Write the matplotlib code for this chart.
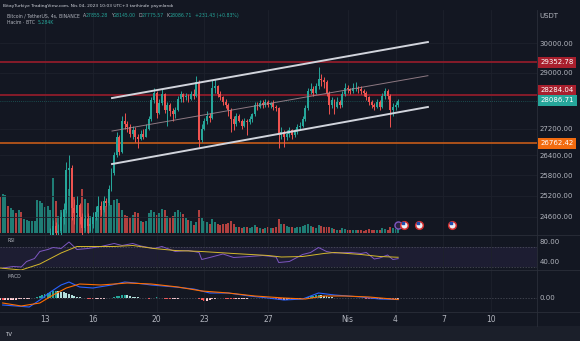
import matplotlib.pyplot as plt
import matplotlib.transforms as mtransforms
from matplotlib.patches import Rectangle
from matplotlib.lines import Line2D
from matplotlib.ticker import FixedLocator, NullLocator, FuncFormatter
import numpy as np

# BTC/USDT 4h candles (Binance), Mar 10 07:00 .. Apr 4 07:00 (UTC+3)
first_open = 20150
closes = [
    19950, 20150, 20200, 20050, 20250,                  # Mar 10
    20550, 20350, 20600, 20450, 20500, 20600,           # Mar 11
    20700, 20900, 21200, 21450, 22100, 22300,           # Mar 12
    22400, 22700, 24100, 24350, 24150, 24200,           # Mar 13
    24600, 24800, 25950, 26000, 24850, 24700,           # Mar 14
    24950, 24600, 24300, 24550, 24350, 24400,           # Mar 15
    24600, 24750, 24900, 24800, 25050, 25000,           # Mar 16
    25400, 25850, 26400, 26950, 26500, 27450,           # Mar 17
    27350, 27250, 27050, 27150, 26950, 26900,           # Mar 18
    27050, 26950, 27200, 27500, 28100, 28350,           # Mar 19
    27700, 28000, 28300, 27800, 27950, 27750,           # Mar 20
    27650, 27800, 28150, 28300, 28200, 28250,           # Mar 21
    28150, 28300, 28250, 28700, 26850, 27200,           # Mar 22
    27450, 27600, 27550, 28500, 28550, 28300,           # Mar 23
    28200, 28050, 27950, 27800, 27500, 27350,           # Mar 24
    27600, 27450, 27300, 27450, 27400, 27500,           # Mar 25
    27650, 27950, 27900, 28000, 27950, 28050,           # Mar 26
    27950, 28000, 27900, 27850, 27000, 27100,           # Mar 27
    26950, 27050, 27150, 27000, 27100, 27250,           # Mar 28
    27300, 27500, 27850, 28400, 28450, 28350,           # Mar 29
    28550, 28800, 28750, 28700, 28350, 27950,           # Mar 30
    28100, 27900, 28050, 27950, 28300, 28500,           # Mar 31
    28450, 28400, 28500, 28500, 28450,                  # Apr 1
    28400, 28350, 28200, 28050, 27950, 27900,           # Apr 2
    28050, 27900, 28250, 28400, 28250, 27800,           # Apr 3
    27900, 27950, 28086.71,                             # Apr 4
]
highs = [
    20300, 20250, 20400, 20300, 20350,
    20700, 20600, 20800, 20650, 20600, 20700,
    20850, 21100, 21400, 21650, 22300, 22700,
    22800, 23000, 24300, 24500, 24450, 24400,
    24750, 25000, 26200, 26400, 26100, 25100,
    25200, 25000, 24700, 24650, 24700, 24600,
    24750, 24900, 25200, 25050, 25200, 25150,
    25500, 26000, 26500, 27100, 27000, 27600,
    27700, 27450, 27350, 27300, 27250, 27050,
    27150, 27200, 27350, 27600, 28200, 28500,
    28400, 28150, 28450, 28350, 28050, 28000,
    27850, 27900, 28250, 28400, 28350, 28350,
    28300, 28400, 28450, 28900, 28750, 27350,
    27550, 27750, 27700, 28750, 28800, 28600,
    28400, 28250, 28150, 28000, 27850, 27600,
    27700, 27650, 27500, 27550, 27500, 27600,
    27700, 28050, 28050, 28100, 28100, 28150,
    28100, 28050, 28100, 27950, 27900, 27250,
    27150, 27150, 27250, 27200, 27200, 27350,
    27400, 27600, 27950, 28500, 28650, 28550,
    28650, 29200, 28950, 28850, 28750, 28400,
    28200, 28150, 28200, 28100, 28400, 28650,
    28600, 28500, 28650, 28700, 28550,
    28550, 28450, 28400, 28250, 28100, 28000,
    28150, 28100, 28350, 28500, 28450, 28300,
    28000, 28050, 28150,
]
lows = [
    19600, 19800, 19950, 19900, 19980,
    20150, 19900, 20300, 20350, 20350, 20400,
    20500, 20600, 20850, 21100, 21400, 21950,
    21900, 22300, 22600, 23800, 23900, 23950,
    24100, 24400, 24700, 25200, 24500, 24400,
    24600, 24400, 24100, 24200, 24150, 24200,
    24300, 24500, 24600, 24650, 24750, 24900,
    24950, 25350, 25800, 26350, 26400, 26450,
    27200, 27100, 26950, 26900, 26800, 26600,
    26850, 26900, 26950, 27150, 27450, 28000,
    27550, 27650, 27950, 27700, 27300, 27600,
    27450, 27550, 27750, 28050, 28050, 28100,
    28050, 28100, 28150, 28200, 26650, 26800,
    27150, 27350, 27400, 27500, 28350, 28200,
    28100, 27950, 27850, 27600, 27100, 27150,
    27300, 27400, 27200, 27250, 27000, 27350,
    27400, 27600, 27800, 27850, 27850, 27900,
    27900, 27850, 27800, 27750, 26600, 26900,
    26650, 26850, 26950, 26900, 26950, 27050,
    27150, 27250, 27450, 27800, 28300, 28250,
    28300, 28450, 28550, 28500, 28250, 27650,
    27850, 27650, 27850, 27850, 27900, 28250,
    28350, 28300, 28350, 28400, 28350,
    28300, 28250, 28100, 27950, 27850, 27800,
    27850, 27800, 27850, 28150, 28150, 27250,
    27600, 27800, 27900,
]
volumes_k = [
    48, 52, 50, 36, 33,
    30, 26, 30, 28, 18, 17,
    16, 15, 16, 43, 42, 40,
    34, 36, 30, 73, 42, 22,
    30, 32, 35, 58, 64, 48,
    24, 22, 58, 45, 40, 22,
    20, 27, 29, 35, 39, 36,
    39, 37, 43, 45, 40, 30,
    24, 22, 20, 23, 28, 26,
    15, 14, 16, 26, 30, 27,
    24, 26, 32, 30, 22, 20,
    22, 28, 30, 27, 25, 20,
    17, 15, 10, 14, 30, 20,
    16, 14, 12, 18, 14, 11,
    10, 12, 11, 13, 16, 12,
    8, 7, 6, 8, 7, 6,
    7, 10, 7, 6, 5, 6,
    7, 6, 6, 8, 18, 12,
    11, 9, 8, 7, 6, 7,
    7, 9, 10, 12, 9, 8,
    6, 10, 9, 7, 8, 7,
    6, 5, 4, 4, 6, 5,
    3, 3, 3, 3, 3,
    3, 2, 3, 5, 4, 3,
    3, 4, 6, 5, 4, 8,
    6, 5, 5.284,
]
macd_hist = [
    -60, -70, -70, -60, -55,
    -50, -45, -40, -35, -30, -25,
    -15, -5, 10, 30, 60, 90,
    120, 150, 180, 200, 210, 200,
    190, 170, 150, 130, 100, 70,
    40, 20, 5, -10, -25, -35,
    -40, -35, -30, -25, -15, -10,
    -5, 10, 30, 50, 70, 80,
    90, 80, 60, 40, 30, 20,
    10, 0, -10, -20, -10, 10,
    20, 10, 0, -15, -25, -30,
    -25, -20, -15, -10, -5, 0,
    5, 10, 5, -5, -40, -70,
    -90, -80, -60, -40, -20, -10,
    -5, -10, -15, -20, -25, -30,
    -30, -25, -20, -20, -15, -10,
    -10, -5, 0, 5, 0, -5,
    -10, -15, -20, -30, -50, -55,
    -50, -45, -40, -35, -30, -25,
    -15, -5, 10, 30, 50, 70,
    80, 90, 85, 70, 55, 40,
    25, 15, 10, 5, 5, 10,
    10, 5, 5, 0, -5,
    -5, -10, -15, -20, -25, -30,
    -30, -25, -20, -15, -20, -30,
    -35, -30, -25,
]

# indicator lines, read at candle positions
macd_x = [1, 11, 15, 19, 23, 26, 30, 35, 42, 47, 51, 57, 66, 73, 79, 86, 94, 101, 107, 114, 120, 126, 136, 143, 150]
macd_line = [-210, -270, -60, 180, 390, 480, 330, 300, 390, 480, 450, 390, 330, 270, 150, 150, 60, 0, -60, -30, 150, 90, 30, -30, -46]
signal_x = [1, 8, 15, 20, 25, 30, 38, 48, 57, 67, 76, 86, 96, 107, 115, 122, 130, 139, 150]
signal_line = [-150, -240, -150, 90, 300, 420, 390, 450, 420, 330, 210, 150, 60, 0, -30, 60, 60, 30, -46]
rsi_x = [1, 5, 8, 10, 13, 15, 18, 20, 23, 26, 29, 33, 38, 43, 46, 50, 53, 58, 61, 66, 71, 75, 76, 79,
         84, 88, 94, 99, 104, 105, 109, 114, 117, 120, 123, 126, 132, 136, 138, 141, 143, 146, 148, 150]
rsi_line = [27, 30, 29, 40, 46, 60, 64, 68, 66, 79, 64, 66, 70, 76, 72, 76, 71, 66, 70, 60, 62, 58, 44, 48,
            55, 48, 50, 52, 49, 38, 40, 54, 58, 68, 60, 57, 58, 56, 58, 45, 47, 53, 44, 45.73]
rsi_ma_x = [0, 8, 15, 23, 29, 35, 43, 50, 58, 66, 76, 88, 101, 106, 114, 122, 126, 136, 143, 150]
rsi_ma = [27, 23, 35, 57, 70, 70, 70, 72, 66, 62, 60, 56, 52, 49, 50, 56, 58, 54, 50, 48.48]

# drawings
level_prices = [29352.78, 28284.04, 26762.42]
channel_x = [42.2, 161.2]
channel_upper = [28174, 30034]
channel_mid = [27133, 28902]
channel_lower = [26130, 27888]
event_x = [152.2, 158, 170.3]

price_ticks = [30000, 29000, 27200, 26400, 25800, 25200, 24600]
date_pos = [17, 35, 59, 77, 101, 131, 149, 167, 185]
date_labels = ['13', '16', '20', '23', '27', 'Nis', '4', '7', '10']

BG = '#131722'
GRID = '#1d212c'
TXT = '#b2b5be'
UP = '#26a69a'
DN = '#ef5350'
W, H = 580, 341

plt.rcParams['font.family'] = ['DejaVu Sans']
fig = plt.figure(figsize=(W / 100, H / 100), dpi=100, facecolor=BG)


def box(x0, y0, x1, y1):
    return [x0 / W, 1 - y1 / H, (x1 - x0) / W, (y1 - y0) / H]


ax_vol = fig.add_axes(box(0, 10, 537, 235))
ax = fig.add_axes(box(0, 10, 537, 235), sharex=ax_vol)
ax_rsi = fig.add_axes(box(0, 235, 537, 270), sharex=ax_vol)
ax_macd = fig.add_axes(box(0, 270, 537, 312), sharex=ax_vol)

for a in (ax_vol, ax, ax_rsi, ax_macd):
    a.set_facecolor(BG)
    for s in a.spines.values():
        s.set_visible(False)
    a.set_xticks(date_pos)
    a.tick_params(axis='x', length=0, labelbottom=False)
    a.grid(True, color=GRID, lw=0.6)
ax.patch.set_visible(False)
ax_vol.set_xlim(0, 202.3)

idx = np.arange(len(closes))
c = np.array(closes, dtype=float)
o = np.array([first_open] + closes[:-1], dtype=float)
up = c >= o
cols = np.where(up, UP, DN)

# volume
ax_vol.bar(idx, volumes_k, width=0.75, color=np.where(up, '#1f7d75', '#b0403f'), lw=0)
ax_vol.set_ylim(-3, 296)
ax_vol.set_yticks([])
ax_vol.grid(False)

# candles
ax.set_yscale('log')
ax.vlines(idx, lows, highs, colors=cols, lw=0.7, zorder=3)
ax.bar(idx, np.maximum(np.abs(c - o), 10), bottom=np.minimum(o, c), width=0.72,
       color=cols, lw=0, zorder=4)
ax.set_ylim(24097, 31152)
ax.yaxis.tick_right()
ax.yaxis.set_major_locator(FixedLocator(price_ticks))
ax.yaxis.set_minor_locator(NullLocator())
ax.yaxis.set_major_formatter(FuncFormatter(lambda v, p: f'{v:.2f}'))
ax.tick_params(axis='y', length=0, pad=2, labelsize=5, labelcolor=TXT)

# levels, channel, last price
level_line_cols = ['#8e1c2a', '#8e1c2a', '#b8561a']
level_box_cols = ['#a81f2d', '#a81f2d', '#f26b0f']
for p, lc in zip(level_prices, level_line_cols):
    ax.axhline(p, color=lc, lw=1.3, zorder=2)
ax.axhline(closes[-1], color=UP, lw=0.5, ls=(0, (1, 2)), alpha=0.7, zorder=2)
ax.plot(channel_x, channel_upper, color='#d1d4dc', lw=1.4, zorder=5)
ax.plot(channel_x, channel_lower, color='#d1d4dc', lw=1.4, zorder=5)
ax.plot(channel_x, channel_mid, color='#a38a93', lw=0.7, alpha=0.85, zorder=5)

trans_y = mtransforms.blended_transform_factory(ax.transAxes, ax.transData)
label_shift = [0, 4.5, 0, 0.5]
for p, fc, dy in zip(level_prices + [closes[-1]], level_box_cols + [UP], label_shift):
    ax.annotate(f'{p:.2f}', xy=(1, p), xycoords=trans_y, xytext=(3.5, dy),
                textcoords='offset pixels', fontsize=5, color='white', va='center', ha='left',
                bbox=dict(boxstyle='square,pad=0.35', fc=fc, ec='none'),
                annotation_clip=False, zorder=10)
fig.text(539 / W, 1 - 16 / H, 'USDT', fontsize=5, color=TXT, va='center')

# event icons
trans_ev = mtransforms.blended_transform_factory(ax.transData, ax.transAxes)
ax.scatter([closes.__len__() - 1], [0.045], s=26, facecolor='#2b2140', edgecolor='#7e57c2',
           lw=1.0, transform=trans_ev, zorder=11)
ax.scatter(event_x, [0.045] * len(event_x), s=30, facecolor='#eceff4', edgecolor='#d32f2f',
           lw=1.1, transform=trans_ev, zorder=12)
ax.scatter(np.array(event_x) - 0.5, [0.052] * len(event_x), marker='s', s=1.5, color='#1e4fb0',
           transform=trans_ev, zorder=13)

# RSI
ax_rsi.set_ylim(23, 93)
ax_rsi.axhspan(30, 70, color='#7e57c2', alpha=0.1, lw=0)
for lvl in (70, 30):
    ax_rsi.axhline(lvl, color='#787b86', lw=0.5, ls=(0, (2, 2)), alpha=0.6)
ax_rsi.plot(rsi_x, rsi_line, color='#7e57c2', lw=0.7)
ax_rsi.plot(rsi_ma_x, rsi_ma, color='#d4b82c', lw=0.7)
ax_rsi.yaxis.tick_right()
ax_rsi.set_yticks([80, 40], ['80.00', '40.00'])
ax_rsi.tick_params(axis='y', length=0, pad=2, labelsize=5, labelcolor=TXT)
ax_rsi.grid(False, axis='y')

# MACD
hist = np.array(macd_hist, dtype=float)
prev = np.r_[hist[0], hist[:-1]]
hcol = np.where(hist >= 0, np.where(hist >= prev, '#26a69a', '#b2dfdb'),
                np.where(hist < prev, '#ff5252', '#ffcdd2'))
ax_macd.set_ylim(-420, 840)
ax_macd.bar(idx, hist, width=0.75, color=hcol, lw=0)
ax_macd.axhline(0, color='#787b86', lw=0.5, ls=(0, (2, 2)), alpha=0.6)
ax_macd.plot(macd_x, macd_line, color='#2962ff', lw=0.8)
ax_macd.plot(signal_x, signal_line, color='#ff6d00', lw=0.8)
ax_macd.yaxis.tick_right()
ax_macd.set_yticks([0], ['0.00'])
ax_macd.tick_params(axis='y', length=0, pad=2, labelsize=5, labelcolor=TXT)
ax_macd.grid(False, axis='y')
ax_macd.set_xticks(date_pos, date_labels)
ax_macd.tick_params(axis='x', length=0, pad=2.5, labelsize=5.5, labelcolor=TXT, labelbottom=True)

# pane separators and bottom bar
for yy in (235, 270, 312):
    fig.add_artist(Line2D([0, 1], [1 - yy / H] * 2, color='#2a2e39', lw=0.6))
fig.add_artist(Line2D([537 / W] * 2, [1 - 326 / H, 1 - 10 / H], color='#2a2e39', lw=0.6))
fig.add_artist(Rectangle((0, 0), 1, 15 / H, transform=fig.transFigure, fc='#1b1f2a', ec='none'))


def chain(x, y, parts, size):
    t = fig.text(x / W, 1 - y / H, parts[0][0], color=parts[0][1], fontsize=size, va='center')
    for s, col, gap in parts[1:]:
        t = ax.annotate(s, xy=(1, 0.5), xycoords=t, xytext=(gap, 0), textcoords='offset points',
                        color=col, fontsize=size, va='center', ha='left', annotation_clip=False)


fig.text(3 / W, 1 - 6 / H, 'BitayTurkiye TradingView.com, Nis 04, 2023 10:03 UTC+3 tarihinde yayınlandı',
         fontsize=3.2, color='#d1d4dc', va='center')
chain(7, 15.5, [('Bitcoin / TetherUS, 4s, BINANCE', TXT), ('A', TXT, 2), ('27855.28', UP, 0),
                ('Y', TXT, 2), ('28145.00', UP, 0), ('D', TXT, 2), ('27775.57', UP, 0),
                ('K', TXT, 2), ('28086.71', UP, 0), ('+231.43 (+0.83%)', UP, 2)], 3.3)
chain(7, 22.5, [('Hacim · BTC', TXT), ('5.284K', UP, 2)], 3.3)
chain(7, 240.5, [('RSI', TXT), ('45.73', '#7e57c2', 2), ('48.48', '#d4b82c', 2),
                 ('∅', TXT, 2), ('∅', TXT, 2)], 3.3)
chain(7, 277, [('MACD', TXT), ('−45.90', '#ffcdd2', 2), ('−46.46', '#2962ff', 2),
               ('−4.56', '#ff6d00', 2)], 3.3)
chain(5, 334, [('TV', '#d1d4dc'), ('TradingView', '#d1d4dc', 1.5)], 4)

fig.savefig('out.png', dpi=100, facecolor=BG)
